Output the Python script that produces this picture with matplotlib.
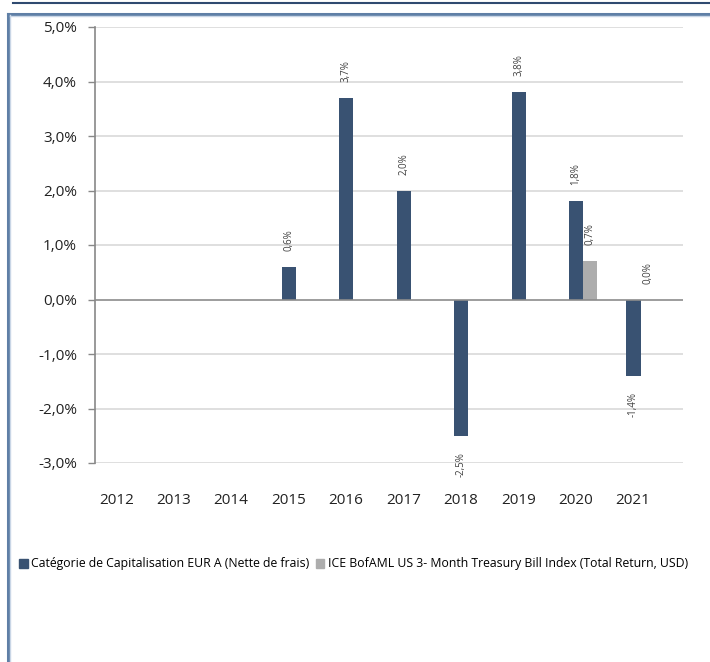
import matplotlib
matplotlib.use("Agg")
import matplotlib.pyplot as plt
from matplotlib.lines import Line2D
from matplotlib.patches import Patch
import numpy as np

plt.rcParams['font.family'] = ['Open Sans', 'DejaVu Sans']

years = ["2012", "2013", "2014", "2015", "2016", "2017", "2018", "2019", "2020", "2021"]
fund = [None, None, None, 0.6, 3.7, 2.0, -2.5, 3.8, 1.8, -1.4]
index = [None, None, None, None, None, None, None, None, 0.7, 0.0]
series_names = ["Catégorie de Capitalisation EUR A (Nette de frais)",
                "ICE BofAML US 3- Month Treasury Bill Index (Total Return, USD)"]
yticks = [5, 4, 3, 2, 1, 0, -1, -2, -3]

c_fund = "#395272"
c_index = "#adadad"

W, H = 710, 662
fig = plt.figure(figsize=(W/100, H/100), dpi=100)

# frame decorations
fig.add_artist(Line2D([13/W, 1], [1-2.5/H, 1-2.5/H], color="#2f4a70", lw=1.5))
fig.add_artist(Line2D([7.5/W, 1], [1-13.5/H, 1-13.5/H], color="#5f7fa6", lw=2.2))
fig.add_artist(Line2D([7.5/W, 7.5/W], [0, 1-13.5/H], color="#5f7fa6", lw=2.2))
fig.add_artist(Line2D([9.5/W, 9.5/W], [0, 1-15/H], color="#c9d6e6", lw=1))
fig.add_artist(Line2D([9.5/W, 1], [1-15.5/H, 1-15.5/H], color="#c9d6e6", lw=1))

ax_l, ax_r, ax_t, ax_b = 95, 683, 27, 463
ax = fig.add_axes([ax_l/W, 1-ax_b/H, (ax_r-ax_l)/W, (ax_b-ax_t)/H])

x = np.arange(len(years))
bw = 0.245
xf = [xi - bw/2 for xi, v in zip(x, fund) if v is not None]
vf = [v for v in fund if v is not None]
xi_ = [xi + bw/2 for xi, v in zip(x, index) if v is not None]
vi = [v for v in index if v is not None]

ax.bar(xf, vf, width=bw, color=c_fund, zorder=3)
ax.bar(xi_, vi, width=bw, color=c_index, zorder=3)

off = 11.5
for xx, v in zip(xf, vf):
    lab = f"{v:.1f}%".replace(".", ",")
    if v >= 0:
        ax.annotate(lab, (xx, v), xytext=(0, off), textcoords="offset points",
                    rotation=90, ha="center", va="bottom", fontsize=7, color="#404040")
    else:
        ax.annotate(lab, (xx, v), xytext=(0, -off), textcoords="offset points",
                    rotation=90, ha="center", va="top", fontsize=7, color="#404040")
for xx, v in zip(xi_, vi):
    lab = f"{v:.1f}%".replace(".", ",")
    ax.annotate(lab, (xx, v), xytext=(0, off), textcoords="offset points",
                rotation=90, ha="center", va="bottom", fontsize=7, color="#404040")

ax.set_ylim(-3, 5)
ax.set_xlim(-0.5, 9.74)
ax.set_yticks(yticks)
ax.set_yticklabels([f"{t:.1f}%".replace(".", ",") for t in yticks], fontsize=11, color="#222222")
ax.tick_params(axis="y", length=5, color="#888888", width=1, pad=8)
for t in yticks:
    if t != 0:
        ax.axhline(t, color="#d9d9d9", lw=1.2, zorder=1)
ax.axhline(0, color="#8c8c8c", lw=1.2, zorder=4)

ax.set_xticks([])
for xx, lab in zip(x, years):
    ax.text(xx - 0.13, -3.68, lab, ha="center", va="center", fontsize=11, color="#222222")

for s in ["top", "right", "bottom"]:
    ax.spines[s].set_visible(False)
ax.spines["left"].set_color("#888888")
ax.spines["left"].set_linewidth(1.2)

handles = [Patch(color=c_fund), Patch(color=c_index)]
fig.legend(handles, series_names, loc="center left", bbox_to_anchor=(19/W, 1-564/H),
           ncol=2, frameon=False, fontsize=8.8, handlelength=0.7, handleheight=0.7,
           handletextpad=0.3, columnspacing=0.5, borderaxespad=0, borderpad=0)

fig.savefig("out.png", dpi=100)
